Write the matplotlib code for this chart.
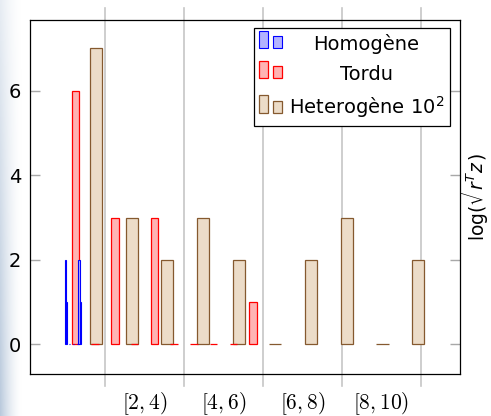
import numpy as np
import matplotlib
matplotlib.use("Agg")
from matplotlib import pyplot as plt
from matplotlib.patches import Rectangle
from matplotlib.legend_handler import HandlerBase
from matplotlib.colors import LinearSegmentedColormap

plt.rcParams['font.family'] = ['DejaVu Sans']
plt.rcParams['mathtext.fontset'] = 'cm'

##### values
series_names = ["Homogène", "Tordu", r"Heterogène $10^2$"]

homog_x = [1.0, 1.035, 1.1, 1.2, 1.3, 1.345, 1.375]
homog_y = [2, 1, 0, 0, 0, 2, 1]

tordu_x = [1.25, 1.75, 2.25, 2.75, 3.25, 3.75, 4.25, 4.75, 5.25, 5.75]
tordu_y = [6, 0, 3, 0, 3, 0, 0, 0, 0, 1]

heter_x = [1.77, 2.68, 3.58, 4.49, 5.40, 6.30, 7.21, 8.12, 9.03, 9.93]
heter_y = [7, 3, 2, 3, 2, 0, 2, 3, 0, 2]

bin_edges = [2, 4, 6, 8, 10]
bin_centers = [3, 5, 7, 9]
bin_labels = [r"$[2, 4)$", r"$[4, 6)$", r"$[6, 8)$", r"$[8, 10)$"]
y_ticks = [0, 2, 4, 6]


class TwoBarHandler(HandlerBase):
    # pgfplots style ybar legend image: a tall and a short bar
    def create_artists(self, legend, orig, xdescent, ydescent, width, height, fontsize, trans):
        bw = width * 0.4
        y0 = 0.07 * fontsize
        kw = dict(fc=orig.get_facecolor(), ec=orig.get_edgecolor(), lw=orig.get_linewidth(), transform=trans)
        tall = Rectangle((-xdescent, y0), bw, 0.9 * fontsize, **kw)
        short = Rectangle((-xdescent + width - bw, y0), bw, 0.62 * fontsize, **kw)
        return [tall, short]


fig = plt.figure(figsize=(4.91, 4.16), dpi=100)

# faint slide background on the far left
bg = fig.add_axes([0, 0, 1, 1], zorder=-10)
bg.axis('off')
gx = np.linspace(0, 1, 60)[None, :]
gy = np.linspace(1, 0, 100)[:, None]
shade = (1 - gx) ** 1.6 * (0.35 + 0.65 * (1 - gy))
cmap = LinearSegmentedColormap.from_list("bg", ["white", "#b9c9dc"])
bg.imshow(shade, extent=[0, 22 / 491, 0, 1], cmap=cmap, vmin=0, vmax=1, aspect='auto')
bg.set_xlim(0, 1)
bg.set_ylim(0, 1)

ax = fig.add_axes([29.5 / 491, 42 / 416, 430.5 / 491, 354 / 416])

for xe in bin_edges:
    ax.axvline(xe, ymin=-12 / 354, ymax=1 + 12 / 354, color='#c6c6c6', lw=1.2, clip_on=False, zorder=1)

b3 = ax.bar(heter_x, heter_y, width=0.31, color='#ecdcc8', edgecolor='#85592f', lw=0.9, zorder=2, label=series_names[2])
b2 = ax.bar(tordu_x, tordu_y, width=0.19, color='#ffb3b3', edgecolor='#ff0000', lw=0.9, zorder=2.1, label=series_names[1])
b1 = ax.bar(homog_x, homog_y, width=0.03, color='#b3b3ff', edgecolor='#0000ff', lw=0.8, zorder=2.2, label=series_names[0])

ax.set_xlim(0.09, 10.99)
ax.set_ylim(-0.7, 7.67)

ax.set_yticks(y_ticks)
ax.tick_params(axis='y', direction='in', length=7.5, width=1, color='#a8a8a8', right=True, labelsize=14, pad=6)
ax.set_xticks(bin_centers, bin_labels)
ax.tick_params(axis='x', length=0, pad=12, labelsize=15.5)
for s in ax.spines.values():
    s.set_linewidth(0.9)
    s.set_color('black')

ax.yaxis.set_label_position('right')
ax.set_ylabel(r'$\log(\sqrt{r^T z})$', fontsize=13.5, math_fontfamily='dejavusans', labelpad=-1)

leg = ax.legend(handles=[b1.patches[0], b2.patches[0], b3.patches[0]], labels=series_names,
                handler_map={Rectangle: TwoBarHandler()},
                loc='upper right', bbox_to_anchor=((450 - 29.5) / 430.5, (374 - 27.7) / 354),
                borderaxespad=0, fontsize=14, handlelength=1.16, handleheight=1.0,
                handletextpad=0.35, labelspacing=0.55, borderpad=0.3,
                fancybox=False, framealpha=1, edgecolor='black')
leg.get_frame().set_linewidth(0.9)
for t in leg.get_texts():
    t.set_math_fontfamily('dejavusans')

# centre the shorter legend entries like pgfplots does
fig.canvas.draw()
r = fig.canvas.get_renderer()
widths = [t.get_window_extent(r).width for t in leg.get_texts()]
for t, w in zip(leg.get_texts(), widths):
    t.set_x((max(widths) - w) / 2)

fig.savefig("out.png", dpi=100)
